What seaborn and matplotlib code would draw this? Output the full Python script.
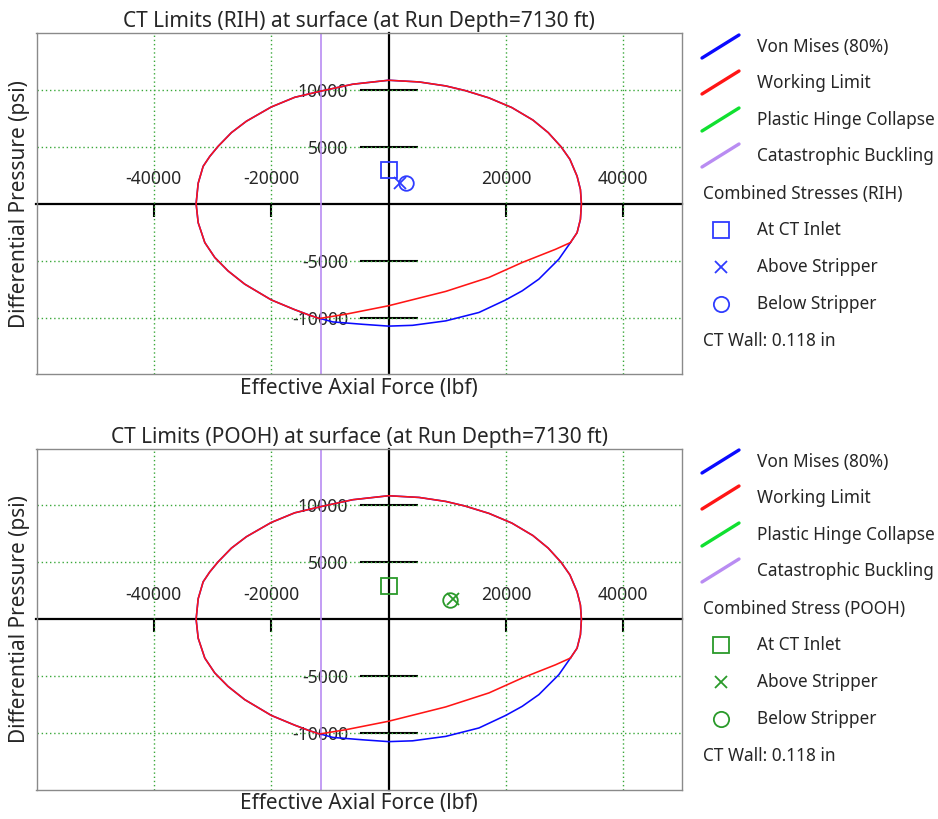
import numpy as np
import matplotlib
matplotlib.use("Agg")
import matplotlib.pyplot as plt
from matplotlib.lines import Line2D
import seaborn as sns

# limit envelope shared by both curves (right-lower point, over the top, to lower-left)
arc_x = [30990, 32120, 32690, 32860, 32690, 32120, 30900, 29400, 27200, 24600, 21000,
         17100, 13000, 9740, 5210, 0, -6120, -11500, -16000, -20000, -24230, -26780,
         -29060, -30470, -31600, -32450, -32800, -32450, -31320, -29620, -27360, -24520,
         -19980, -16020, -13700, -11780]
arc_y = [-3410, -2540, -1370, 0, 1250, 2420, 3900, 5000, 6250, 7350, 8450,
         9300, 9950, 10350, 10700, 10850, 10500, 9900, 9350, 8500, 7250, 6250,
         5040, 4160, 3290, 1800, 0, -1660, -3410, -4720, -5900, -7060,
         -8450, -9300, -9750, -10080]
# lower branches, going from lower-left back to the right
wl_low_x = [-7250, 0, 9740, 17110, 22770, 28450, 30990]
wl_low_y = [-9700, -8960, -7700, -6470, -5160, -4000, -3410]
vm_low_x = [-11200, -9520, -4420, 0, 4080, 9740, 15400, 19950, 22770, 25610, 29010, 30990]
vm_low_y = [-10140, -10380, -10590, -10750, -10680, -10290, -9550, -8450, -7650, -6620, -4870, -3410]
buckling_force = -11600

# combined stress points: inlet, above stripper, below stripper
rih_x = [0, 1900, 2900]
rih_y = [3000, 1800, 1850]
pooh_x = [0, 10900, 10400]
pooh_y = [2950, 1800, 1650]

xticks = [-40000, -20000, 20000, 40000]
yticks = [-10000, -5000, 5000, 10000]
xlim = (-60000, 50000)
ylim = (-15000, 15000)

titles = ["CT Limits (RIH) at surface (at Run Depth=7130 ft)",
          "CT Limits (POOH) at surface (at Run Depth=7130 ft)"]
line_labels = ["Von Mises (80%)", "Working Limit", "Plastic Hinge Collapse", "Catastrophic Buckling"]
group_labels = ["Combined Stresses (RIH)", "Combined Stress (POOH)"]
point_labels = ["At CT Inlet", "Above Stripper", "Below Stripper"]
wall_text = "CT Wall: 0.118 in"

BLUE = "#0a0aff"
RED = "#ff1515"
GREEN = "#10e030"
PURPLE = "#b98cf2"
pt_colors = ["#2f3cff", "#2a9a2a"]
markers = ["s", "x", "o"]
msizes = [11, 9, 10.5]
TXT = "#262626"

sns.set_theme(style="white")
plt.rcParams["font.family"] = ["Noto Sans", "DejaVu Sans"]

W, H = 938, 819
fig = plt.figure(figsize=(W / 100, H / 100), dpi=100)


def fx(px):
    return px / W


def fy(py):
    return 1 - py / H


wl_x = arc_x + wl_low_x
wl_y = arc_y + wl_low_y
vm_x = arc_x + vm_low_x
vm_y = arc_y + vm_low_y

for i, top in enumerate([33, 448.5]):
    bottom = top + 341.5
    ax = fig.add_axes([fx(36.5), fy(bottom), fx(682) - fx(36.5), (bottom - top) / H])
    ax.set_xlim(*xlim)
    ax.set_ylim(*ylim)
    ax.set_xticks(xticks)
    ax.set_yticks(yticks)
    ax.tick_params(length=0, labelbottom=False, labelleft=False)
    ax.grid(True, color="#3aa83a", linestyle=(0, (1, 2)), linewidth=1.0)
    for s in ax.spines.values():
        s.set_color("#8a8a8a")
        s.set_linewidth(1.0)

    ax.axvline(buckling_force, color=PURPLE, lw=1.2, zorder=2)
    sns.lineplot(x=vm_x, y=vm_y, sort=False, estimator=None, color=BLUE, lw=1.15, ax=ax, zorder=3)
    sns.lineplot(x=wl_x, y=wl_y, sort=False, estimator=None, color=RED, lw=1.15, ax=ax, zorder=4)
    ax.set_xlabel("")
    ax.set_ylabel("")

    px_, py_ = (rih_x, rih_y) if i == 0 else (pooh_x, pooh_y)
    for j in range(3):
        ax.plot(px_[j], py_[j], linestyle="none", marker=markers[j], ms=msizes[j],
                mfc="none", mec=pt_colors[i], mew=1.3, zorder=5)

    # axes through the origin
    ox = (0 - xlim[0]) / (xlim[1] - xlim[0])
    oy = (0 - ylim[0]) / (ylim[1] - ylim[0])
    secx = ax.secondary_xaxis(oy)
    secx.set_alignment("top")
    secx.set_xticks(xticks)
    secx.set_xticklabels([str(t) for t in xticks])
    secx.tick_params(direction="in", length=9.5, width=1.5, color="black",
                     labelsize=12.6, labelcolor=TXT, pad=11)
    secx.spines["top"].set_color("black")
    secx.spines["top"].set_linewidth(1.6)
    secy = ax.secondary_yaxis(ox)
    secy.set_alignment("left")
    secy.set_yticks(yticks)
    secy.set_yticklabels([str(t) for t in yticks])
    secy.tick_params(direction="inout", length=42, width=1.5, color="black",
                     labelsize=12.6, labelcolor=TXT, pad=8)
    secy.spines["left"].set_color("black")
    secy.spines["left"].set_linewidth(1.6)

    ax.set_title(titles[i], fontsize=15, color=TXT, pad=4)
    ax.text(0.5, -14 / 341.5, "Effective Axial Force (lbf)", transform=ax.transAxes,
            fontsize=15, color=TXT, ha="center", va="center")
    ax.text(-16.5 / 645.5, 0.5, "Differential Pressure (psi)", transform=ax.transAxes,
            fontsize=15, color=TXT, ha="center", va="center", rotation=90)

    # legend block
    off = 0 if i == 0 else 415
    for k, (lab, col) in enumerate(zip(line_labels, [BLUE, RED, GREEN, PURPLE])):
        yc = [47, 83, 120, 156][k] + off
        fig.add_artist(Line2D([fx(702), fx(739)], [fy(yc + 11), fy(yc - 12)],
                              color=col, lw=2.4, solid_capstyle="round"))
        fig.text(fx(757), fy(yc), lab, fontsize=12.4, color=TXT, va="center", ha="left")
    fig.text(fx(703), fy(194 + off), group_labels[i], fontsize=12.4, color=TXT, va="center")
    for k in range(3):
        yc = [230, 267, 304][k] + off
        fig.add_artist(Line2D([fx(721)], [fy(yc)], linestyle="none", marker=markers[k],
                              ms=[11, 9, 11][k], mfc="none", mec=pt_colors[i], mew=1.3))
        fig.text(fx(757), fy(yc), point_labels[k], fontsize=12.4, color=TXT, va="center")
    fig.text(fx(703), fy(341 + off), wall_text, fontsize=12.4, color=TXT, va="center")

fig.savefig("out.png", dpi=100)
